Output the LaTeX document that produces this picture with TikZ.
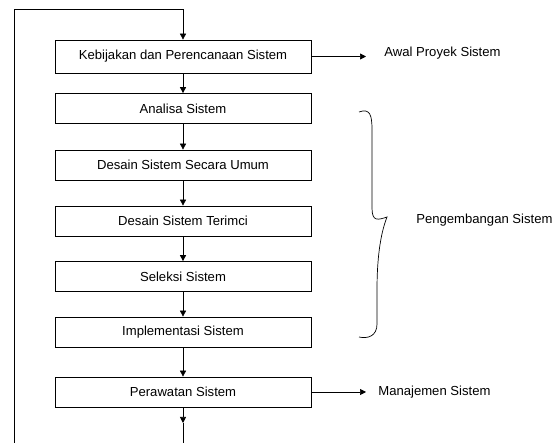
\documentclass[tikz,border=0pt]{standalone}
\usepackage{fontspec}
\setmainfont{Liberation Sans}
\usetikzlibrary{arrows.meta}
\begin{document}
\begin{tikzpicture}[x=1pt,y=-1pt,
  line width=0.7pt,
  every node/.style={font=\fontsize{13.1}{15}\selectfont},
  box/.style={draw, minimum width=256pt, minimum height=30pt, inner sep=0pt},
  lbl/.style={anchor=west, inner sep=0pt},
  arr/.style={-{Triangle[length=6pt,width=6pt]}}]
\useasboundingbox (0,0) rectangle (552,443);
\node[box, minimum height=33pt] (b1) at (183,56.5) {Kebijakan dan Perencanaan Sistem};
\node[box] (b2) at (183,108.5) {Analisa Sistem};
\node[box] (b3) at (183,165) {Desain Sistem Secara Umum};
\node[box] (b4) at (183,221) {Desain Sistem Terimci};
\node[box] (b5) at (183,276.5) {Seleksi Sistem};
\node[box] (b6) at (183,332) {Implementasi Sistem};
\node[box] (b7) at (183,392) {Perawatan Sistem};
\draw[arr] (b1) -- (b2);
\draw[arr] (b2) -- (b3);
\draw[arr] (b3) -- (b4);
\draw[arr] (b4) -- (b5);
\draw[arr] (b5) -- (b6);
\draw[arr] (b6) -- (b7);
\coordinate (mid) at (183,423);
\coordinate (bot) at (183,443);
\draw[arr] (b7) -- (mid);
\draw (mid) -- (bot);
\coordinate (bl) at (14,443);
\coordinate (tl) at (14,9);
\coordinate (tr) at (183,9);
\draw[arr] (bl) -- (tl) -- (tr) -- (b1.north);
\node[lbl] (awal) at (384,53) {Awal Proyek Sistem};
\coordinate (a1) at (366,56.5);
\draw[arr] (b1.east) -- (a1);
\node[lbl] (man) at (378,392) {Manajemen Sistem};
\coordinate (a7) at (366,392);
\draw[arr] (b7.east) -- (a7);
\node[lbl] (peng) at (416,220) {Pengembangan Sistem};
\draw (359,112) .. controls (370,108) and (372,115) .. (372,130) -- (372,208)
  .. controls (372,222) and (378,220) .. (387,217)
  .. controls (380,235) and (377,260) .. (377,290) -- (377,324)
  .. controls (377,336) and (368,339) .. (359,337);
\end{tikzpicture}
\end{document}
